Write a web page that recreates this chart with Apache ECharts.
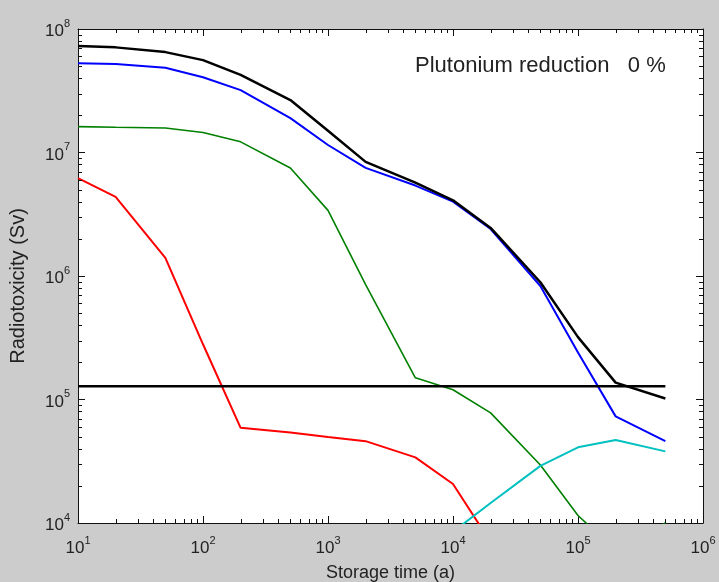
<!DOCTYPE html>
<html>
<head>
<meta charset="utf-8">
<script src="https://cdn.jsdelivr.net/npm/echarts@6/dist/echarts.min.js"></script>
<style>
html,body{margin:0;padding:0;background:#cccccc;}
#chart{width:719px;height:582px;}
</style>
</head>
<body>
<div id="chart"></div>
<script>
// Storage time (years)
const years = [10, 20, 50, 100, 200, 500, 1000, 2000, 5000, 1e4, 2e4, 5e4, 1e5, 2e5, 5e5];
// Radiotoxicity (Sv)
const totalSv  = [7.3e7, 7.1e7, 6.5e7, 5.6e7, 4.25e7, 2.66e7, 1.5e7, 8.4e6, 5.7e6, 4.1e6, 2.45e6, 8.9e5, 3.2e5, 1.37e5, 1.02e5];
const blueSv   = [5.27e7, 5.2e7, 4.85e7, 4.07e7, 3.2e7, 1.9e7, 1.15e7, 7.5e6, 5.4e6, 4.0e6, 2.4e6, 8.3e5, 2.4e5, 7.3e4, 4.6e4];
const greenSv  = [1.62e7, 1.6e7, 1.58e7, 1.45e7, 1.22e7, 7.5e6, 3.4e6, 8.5e5, 1.5e5, 1.2e5, 7.8e4, 2.95e4, 1.15e4, 6.0e3, 1.0e4];
const redSv    = [6.2e6, 4.37e6, 1.4e6, 2.8e5, 5.9e4, 5.4e4, 4.97e4, 4.6e4, 3.4e4, 2.07e4, 7.0e3, null, null, null, null];
const cyanSv   = [null, null, null, null, null, null, null, null, null, 8.5e3, 1.45e4, 2.9e4, 4.1e4, 4.7e4, 3.8e4];
const limitYears = [10, 5e5];
const limitSv    = [1.28e5, 1.28e5];

const X_MIN = 10, X_MAX = 1e6, Y_MIN = 1e4, Y_MAX = 1e8;
const xDecades = [10, 100, 1000, 1e4, 1e5];
const yDecades = [1e4, 1e5, 1e6, 1e7];
const minorMult = [2, 3, 4, 5, 6, 7, 8, 9];
const xMinorTicks = [];
xDecades.forEach(d => minorMult.forEach(m => xMinorTicks.push(d * m)));
const yMinorTicks = [];
yDecades.forEach(d => minorMult.forEach(m => yMinorTicks.push(d * m)));

const annotation = 'Plutonium reduction   0 %';
const xName = 'Storage time (a)';
const yName = 'Radiotoxicity (Sv)';

function pairs(xs, ys) {
  const out = [];
  xs.forEach((x, i) => { if (ys[i] != null) out.push([x, ys[i]]); });
  return out;
}

const FONT = '"Liberation Sans", Arial, sans-serif';
const AX = '#111111';

function expLabel(v) {
  const e = Math.round(Math.log10(v));
  return '{b|10}{s|' + e + '}';
}
const richLbl = {
  b: { fontSize: 17, fontFamily: FONT, color: '#222', lineHeight: 22, verticalAlign: 'bottom' },
  s: { fontSize: 11, fontFamily: FONT, color: '#222', lineHeight: 22, verticalAlign: 'top' }
};

function baseAxis(extra) {
  return Object.assign({
    type: 'log', logBase: 10,
    axisLine: { show: true, onZero: false, lineStyle: { color: AX, width: 1 } },
    axisTick: { show: true, inside: true, length: 7, lineStyle: { color: AX, width: 1 } },
    splitLine: { show: false }
  }, extra);
}

const TL = 4;
function minorXRender(params, api) {
  const x = api.value(0);
  const pb = api.coord([x, Y_MIN]);
  const pt = api.coord([x, Y_MAX]);
  const px = Math.round(pb[0]) + 0.5;
  return { type: 'group', children: [
    { type: 'line', shape: { x1: px, y1: pb[1], x2: px, y2: pb[1] - TL }, style: { stroke: AX, lineWidth: 1 } },
    { type: 'line', shape: { x1: px, y1: pt[1], x2: px, y2: pt[1] + TL }, style: { stroke: AX, lineWidth: 1 } }
  ]};
}
function minorYRender(params, api) {
  const y = api.value(1);
  const pl = api.coord([X_MIN, y]);
  const pr = api.coord([X_MAX, y]);
  const py = Math.round(pl[1]) + 0.5;
  return { type: 'group', children: [
    { type: 'line', shape: { x1: pl[0], y1: py, x2: pl[0] + TL, y2: py }, style: { stroke: AX, lineWidth: 1 } },
    { type: 'line', shape: { x1: pr[0], y1: py, x2: pr[0] - TL, y2: py }, style: { stroke: AX, lineWidth: 1 } }
  ]};
}

function lineSeries(name, data, color, width) {
  return {
    name: name, type: 'line', data: data, xAxisIndex: 0, yAxisIndex: 0,
    symbol: 'none', clip: true, lineStyle: { color: color, width: width }, z: 3
  };
}

const chart = echarts.init(document.getElementById('chart'), null, { renderer: 'canvas' });
chart.setOption({
  animation: false,
  backgroundColor: '#cccccc',
  grid: { left: 78, right: 16, top: 29, bottom: 59, show: true, backgroundColor: '#ffffff', borderWidth: 0, outerBoundsMode: 'none' },
  xAxis: [
    baseAxis({
      position: 'bottom', min: X_MIN, max: X_MAX,
      name: xName, nameLocation: 'middle', nameGap: 41,
      nameTextStyle: { fontSize: 18, fontFamily: FONT, color: '#222' },
      axisLabel: { show: true, margin: 12, formatter: expLabel, rich: richLbl }
    }),
    baseAxis({ position: 'top', min: X_MIN, max: X_MAX, axisLabel: { show: false } })
  ],
  yAxis: [
    baseAxis({
      position: 'left', min: Y_MIN, max: Y_MAX,
      name: yName, nameLocation: 'middle', nameGap: 50,
      nameTextStyle: { fontSize: 20, fontFamily: FONT, color: '#222', padding: [0, 20, 0, 0] },
      axisLabel: { show: true, margin: 8, formatter: expLabel, rich: richLbl }
    }),
    baseAxis({ position: 'right', min: Y_MIN, max: Y_MAX, axisLabel: { show: false } })
  ],
  graphic: [{
    type: 'text', left: 415, top: 55, z: 10,
    style: { text: annotation, font: '22px ' + FONT, fill: '#222' }
  }],
  series: [
    { type: 'custom', xAxisIndex: 0, yAxisIndex: 0, renderItem: minorXRender, data: xMinorTicks.map(v => [v, Y_MIN]), z: 5, silent: true },
    { type: 'custom', xAxisIndex: 0, yAxisIndex: 0, renderItem: minorYRender, data: yMinorTicks.map(v => [X_MIN, v]), z: 5, silent: true },
    lineSeries('red', pairs(years, redSv), '#ff0000', 2),
    lineSeries('green', pairs(years, greenSv), '#008000', 1.6),
    lineSeries('cyan', pairs(years, cyanSv), '#00c0c0', 2),
    lineSeries('blue', pairs(years, blueSv), '#0000ff', 2),
    lineSeries('total', pairs(years, totalSv), '#000000', 2.5),
    lineSeries('limit', pairs(limitYears, limitSv), '#000000', 2.5)
  ]
});
</script>
</body>
</html>
